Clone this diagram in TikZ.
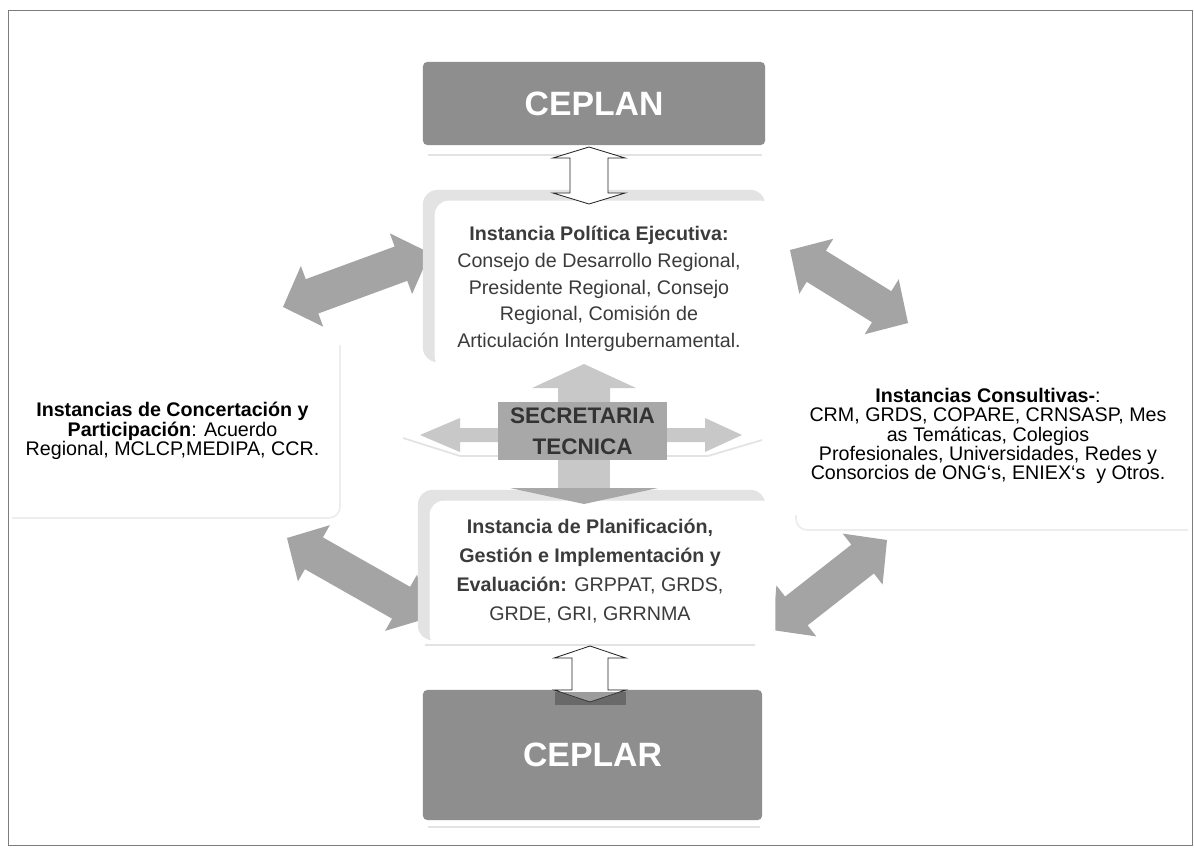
\documentclass[tikz,border=0pt]{standalone}
\usepackage{fontspec}
\setmainfont{Liberation Sans}
\usetikzlibrary{calc}
\definecolor{boxgray}{HTML}{8E8E8E}
\definecolor{arrowgray}{HTML}{A4A4A4}
\definecolor{bevelgray}{HTML}{E3E3E3}
\definecolor{armgray}{HTML}{C8C8C8}
\definecolor{secgray}{HTML}{A8A8A8}
\definecolor{textdark}{HTML}{3B3B3B}
\definecolor{framegray}{HTML}{7C7C7C}

% two-headed block arrow between two named points:
% #1 style, #2 and #3 end points, #4 head length, #5 head half width, #6 shaft half width
\newcommand{\twoway}[6]{%
  \path[#1] (#2) -- ($(#2)!#4!(#3)!#5!90:(#3)$) -- ($(#2)!#4!(#3)!#6!90:(#3)$)
    -- ($(#3)!#4!(#2)!#6!-90:(#2)$) -- ($(#3)!#4!(#2)!#5!-90:(#2)$) -- (#3)
    -- ($(#3)!#4!(#2)!#5!90:(#2)$) -- ($(#3)!#4!(#2)!#6!90:(#2)$)
    -- ($(#2)!#4!(#3)!#6!-90:(#3)$) -- ($(#2)!#4!(#3)!#5!-90:(#3)$) -- cycle;}

\begin{document}
\begin{tikzpicture}[x=0.025cm, y=-0.025cm,
    titlebox/.style={fill=boxgray, rounded corners=3pt, inner sep=0pt, text=white,
      font=\fontsize{24}{28}\selectfont\bfseries},
    bevel/.style={fill=bevelgray, rounded corners=10pt, inner sep=0pt},
    bodytext/.style={align=center, text=textdark, inner sep=0pt},
    sidetext/.style={align=center, text=black, inner sep=0pt, font=\fontsize{14}{13.8}\selectfont},
    secbox/.style={fill=secgray, inner sep=0pt, align=center, text=black!80,
      font=\fontsize{16}{22}\selectfont\bfseries},
    fatarrow/.style={fill=arrowgray},
    hollow/.style={draw=black!85, fill=white, line width=0.6pt},
    arm/.style={fill=armgray},
    faint/.style={draw=gray!22, line width=1.2pt}]

  % page and thin outer frame
  \fill[white] (0,0) rectangle (1194,847);
  \draw[framegray, line width=0.7pt] (8,10) rectangle (1192,845);

  % faint edges of the two side boxes
  \draw[faint, gray!14, rounded corners=8pt] (12,518) -- (340,518) -- (340,345);
  \draw[faint, gray!14, rounded corners=8pt] (796,515) -- (796,530) -- (1188,530);

  % ends of the big connectors
  \coordinate (concNE) at (283,307);
  \coordinate (polW) at (430,253);
  \coordinate (consNW) at (908,323);
  \coordinate (polE) at (790,250);
  \coordinate (concSE) at (287,538);
  \coordinate (planW) at (428,618);
  \coordinate (consSW) at (887,540);
  \coordinate (planE) at (772,630);

  % big grey double arrows (under the boxes)
  \twoway{fatarrow}{concNE}{polW}{22pt}{23pt}{13pt}
  \twoway{fatarrow}{consNW}{polE}{22pt}{23pt}{13pt}
  \twoway{fatarrow}{concSE}{planW}{22pt}{23pt}{13pt}
  \twoway{fatarrow}{consSW}{planE}{22pt}{23pt}{13pt}

  % Instancia Politica Ejecutiva
  \node[bevel, minimum width=8.55cm, minimum height=4.3cm] (pol) at (594,276) {};
  \fill[white, rounded corners=10pt] ($(pol.north west)+(12,11)$) rectangle ($(pol.south east)+(10,8)$);
  \node[bodytext, font=\fontsize{14}{19}\selectfont] (poltxt) at (599,289)
    {\textbf{Instancia Política Ejecutiva:}\\Consejo de Desarrollo Regional,\\Presidente Regional, Consejo\\Regional, Comisión de\\Articulación Intergubernamental.};

  % Instancia de Planificacion
  \node[bevel, minimum width=8.675cm, minimum height=3.75cm] (plan) at (591.5,565) {};
  \fill[white, rounded corners=10pt] ($(plan.north west)+(12,11)$) rectangle ($(plan.south east)+(10,8)$);
  \draw[faint] (425,645) -- (755,645);
  \node[bodytext, font=\fontsize{14}{20.5}\selectfont] (plantxt) at (590,571)
    {\textbf{Instancia de Planificación,}\\\textbf{Gestión e Implementación y}\\\textbf{Evaluación:} GRPPAT, GRDS,\\GRDE, GRI, GRRNMA};

  % four way arrow round the secretaria
  \fill[arm] (558,402) -- (558,388) -- (532,388) -- (584,364) -- (636,388) -- (610,388) -- (610,402) -- cycle;
  \fill[arm] (558,460) -- (558,488) -- (610,488) -- (610,460) -- cycle;
  \fill[secgray] (510,488) -- (584,504) -- (658,488) -- cycle;
  \fill[arm] (498,428) -- (460,428) -- (460,418) -- (420,435) -- (460,452) -- (460,442) -- (498,442) -- cycle;
  \fill[arm] (667,428) -- (705,428) -- (705,418) -- (742,435) -- (705,452) -- (705,442) -- (667,442) -- cycle;
  \draw[faint] (403,438) -- (460,456) -- (498,456);
  \draw[faint] (667,456) -- (708,456) -- (762,440);
  \node[secbox, minimum width=4.225cm, minimum height=1.45cm] (sec) at (582.5,431) {SECRETARIA\\TECNICA};

  % CEPLAN on top
  \node[titlebox, minimum width=8.55cm, minimum height=2.075cm] (ceplan) at (594,103.5) {CEPLAN};
  \draw[faint] (428,155) -- (762,155);
  \coordinate (ceplanS) at (589,147);
  \coordinate (polN) at (589,204);
  \twoway{hollow}{ceplanS}{polN}{7.8pt}{25.6pt}{13.5pt}

  % CEPLAR at the bottom
  \node[titlebox, minimum width=8.475cm, minimum height=3.25cm] (ceplar) at (592.5,755) {CEPLAR};
  \draw[faint] (428,827) -- (760,827);
  \coordinate (planS) at (590,646);
  \coordinate (ceplarN) at (590,702);
  \twoway{hollow}{planS}{ceplarN}{8.5pt}{25.3pt}{12.8pt}
  \fill[black!70, opacity=0.55] (555,692) rectangle (626,705);

  % side instances
  \node[sidetext] (conc) at (172.5,431)
    {\textbf{Instancias de Concertación y}\\\textbf{Participación}: Acuerdo\\Regional, MCLCP,MEDIPA, CCR.};
  \node[sidetext] (cons) at (988,436)
    {\textbf{Instancias Consultivas-}:\\CRM, GRDS, COPARE, CRNSASP, Mes\\as Temáticas, Colegios\\Profesionales, Universidades, Redes y\\Consorcios de ONG\char96 s, ENIEX\char96 s~ y Otros.};
\end{tikzpicture}
\end{document}
